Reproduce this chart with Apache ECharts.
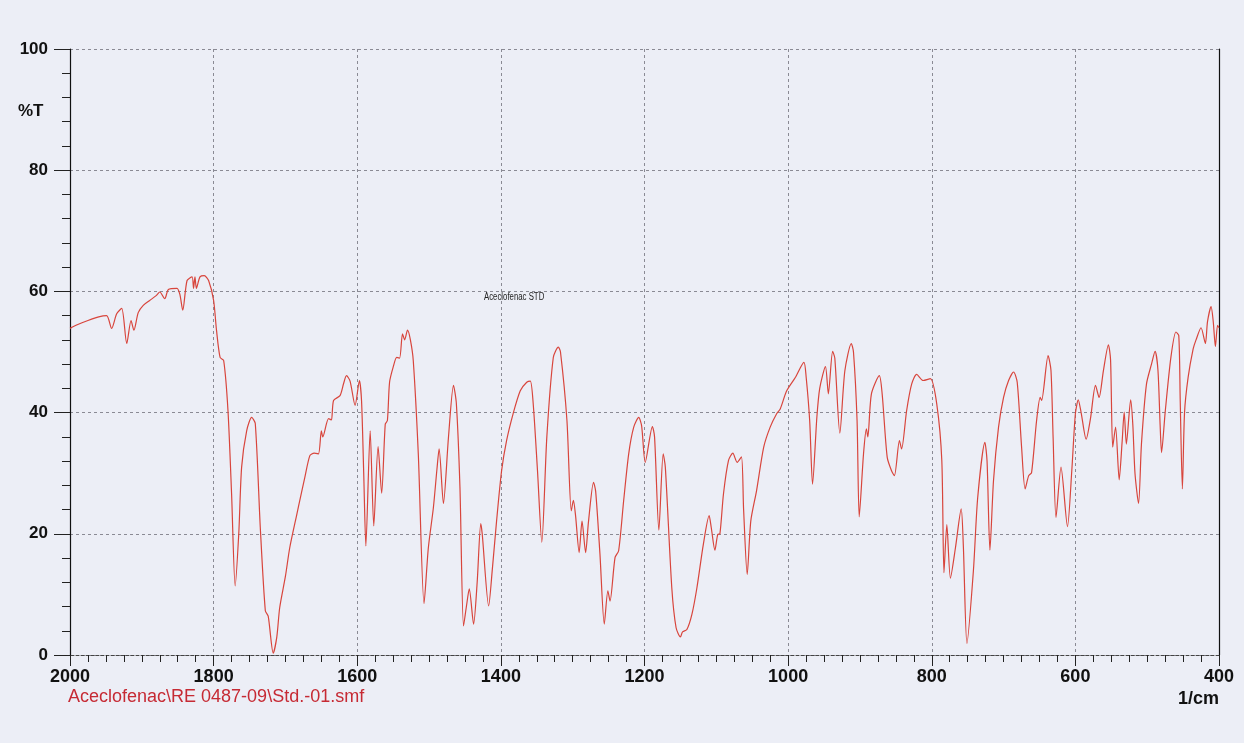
<!DOCTYPE html>
<html><head><meta charset="utf-8">
<script src="https://cdn.jsdelivr.net/npm/echarts@6/dist/echarts.min.js"></script>
<style>html,body{margin:0;padding:0;background:#eceef6;}#c{width:1244px;height:743px;}</style>
</head><body><div id="c"></div>
<script>
const wavenumbers = [2000,1990,1975,1960,1949,1942,1935,1928,1921,1915,1911,1905,1898,1889,1880,1875,1868,1863,1851,1847,1843,1837,1830,1828,1826,1824,1819,1813,1807,1800,1796,1791,1786,1780,1775,1770,1765,1761,1754,1747,1742,1735,1728,1724,1717,1712,1708,1700,1694,1684,1680,1673,1666,1660,1654,1650,1648,1640,1636,1633,1624,1619,1615,1610,1603,1597,1594,1591,1588,1582,1577,1571,1566,1561,1558,1555,1550,1545,1541,1537,1534,1530,1526,1522,1515,1507,1501,1494,1489,1486,1480,1473,1466,1462,1457,1452,1448,1444,1438,1433,1428,1426,1417,1412,1406,1399,1392,1383,1373,1364,1359,1355,1349,1343,1336,1327,1320,1317,1308,1302,1299,1296,1291,1287,1282,1278,1271,1268,1262,1256,1251,1248,1241,1236,1229,1222,1215,1208,1204,1199,1189,1186,1180,1174,1171,1162,1156,1150,1147,1141,1134,1127,1118,1110,1107,1102,1098,1095,1090,1083,1077,1071,1065,1062,1057,1052,1044,1034,1025,1016,1011,1002,990,978,975,970,966,960,956,948,944,938,935,928,921,912,909,904,901,895,891,889,884,873,869,862,856,852,845,842,835,828,821,812,802,793,786,783,779,774,767,759,756,751,742,736,726,723,719,714,707,700,693,686,681,675,670,665,661,654,649,647,638,634,631,627,620,611,605,600,596,592,585,579,572,567,561,554,551,548,544,539,535,532,529,523,520,517,512,508,501,494,489,485,482,480,475,467,460,456,454,451,448,443,436,432,425,419,416,411,408,405,402,400];
const transmittance = [53.9,54.5,55.2,55.8,56.0,53.9,56.3,57.2,51.4,55.2,53.6,56.5,57.7,58.5,59.3,59.9,58.8,60.3,60.5,59.5,56.9,61.8,62.4,60.5,62.4,60.5,62.4,62.6,61.8,58.5,53.6,49.1,48.6,40.3,26.6,11.4,20.0,31.0,37.0,39.2,38.2,21.0,7.3,6.4,0.3,3.0,7.8,13.0,17.7,23.3,25.5,29.3,32.9,33.3,33.2,37.0,36.0,39.0,38.8,42.0,42.8,44.8,46.1,45.2,41.2,45.3,41.9,30.0,18.0,37.0,21.3,34.4,26.7,38.1,38.7,45.0,47.5,49.1,49.0,53.0,52.0,53.6,52.0,48.6,33.2,8.5,17.7,24.3,30.7,34.0,25.0,35.9,44.5,41.5,27.7,4.8,8.0,10.9,5.1,12.0,21.7,20.0,8.1,14.0,22.1,30.4,35.4,39.8,43.6,45.0,45.2,41.5,30.4,18.6,36.0,49.1,50.8,50.0,38.7,23.8,25.5,23.0,16.9,22.1,16.9,22.0,28.5,27.0,16.6,5.1,10.6,8.9,16.1,17.2,25.5,33.2,37.6,39.2,37.8,31.8,37.7,36.0,20.6,33.2,31.0,11.1,4.5,3.0,3.8,4.2,6.7,11.1,18.3,23.0,21.0,17.3,19.9,20.0,26.6,32.1,33.3,31.8,32.7,24.0,13.3,22.1,27.1,34.3,37.6,39.8,40.6,43.6,45.8,48.3,46.0,38.7,28.2,39.2,44.0,47.6,43.1,50.1,49.0,36.6,46.9,51.4,50.0,38.7,22.8,33.2,37.3,36.0,43.1,46.1,43.0,32.6,30.4,29.6,35.4,34.0,40.3,44.7,46.3,45.3,45.6,41.4,32.1,13.6,21.5,12.7,17.7,24.1,18.0,1.9,13.9,26.0,35.1,32.0,17.3,28.8,37.6,42.5,45.3,46.7,45.0,34.5,27.4,29.6,30.1,38.7,42.5,42.0,49.4,47.0,35.9,22.7,31.0,21.2,30.4,39.8,42.1,40.0,35.6,39.0,44.5,42.5,46.9,51.2,48.7,34.3,37.6,28.9,35.0,40.1,34.8,42.1,38.0,30.0,25.0,34.8,44.7,48.0,50.1,47.0,38.0,33.4,40.0,49.1,53.3,52.7,42.0,27.4,40.0,45.8,50.5,52.0,54.0,51.4,55.0,57.5,55.0,50.9,54.4,54.0];
const xTicks = [2000,1800,1600,1400,1200,1000,800,600,400];
const yTicks = [0,20,40,60,80,100];
const sampleName = 'Aceclofenac STD';
const fileName = 'Aceclofenac\\RE 0487-09\\Std.-01.smf';

const chart = echarts.init(document.getElementById('c'));
const pts = wavenumbers.map((w,i)=>[w,transmittance[i]]);
const gridDash = {color:'#8a8a94', width:1, type:[3,3]};
chart.setOption({
  backgroundColor:'#eceef6',
  animation:false,
  grid:{left:70,right:25,top:49,bottom:88},
  xAxis:{type:'value',inverse:true,min:400,max:2000,interval:200,
    axisLine:{show:true,lineStyle:{color:'#444',type:[3,2],width:1}},
    axisTick:{show:true,length:11,lineStyle:{color:'#222'}},
    minorTick:{show:true,splitNumber:8,length:7,lineStyle:{color:'#222'}},
    splitLine:{show:true,lineStyle:gridDash},
    axisLabel:{color:'#111',fontSize:18,fontWeight:'bold',fontFamily:'Liberation Sans, Arial',margin:13,
      formatter:v=>xTicks.includes(v)?String(v):''}
  },
  yAxis:[{type:'value',min:0,max:100,interval:20,
    axisLine:{show:true,lineStyle:{color:'#111',width:1.2}},
    axisTick:{show:true,length:16,lineStyle:{color:'#222'}},
    minorTick:{show:true,splitNumber:5,length:8,lineStyle:{color:'#222'}},
    splitLine:{show:true,lineStyle:gridDash},
    axisLabel:{color:'#111',fontSize:17,fontWeight:'bold',fontFamily:'Liberation Sans, Arial',margin:22,
      formatter:v=>yTicks.includes(v)?String(v):''}
  },{type:'value',min:0,max:100,position:'right',
    axisLine:{show:true,lineStyle:{color:'#111',width:1.2}},
    axisTick:{show:false},axisLabel:{show:false},splitLine:{show:false}}],
  series:[{type:'line',data:pts,showSymbol:false,smooth:0.25,
    lineStyle:{color:'#d8453c',width:1.2},z:5}],
  graphic:[
    {type:'text',left:18,top:103,style:{text:'%T',fontSize:17,fontWeight:'bold',fontFamily:'Liberation Sans, Arial',fill:'#111'}},
    {type:'text',x:484,y:292,scaleX:0.78,style:{text:sampleName,fontSize:10,fontFamily:'Liberation Sans, Arial',fill:'#222'}},
    {type:'text',left:68,top:688,style:{text:fileName,fontSize:18,fontFamily:'Liberation Sans, Arial',fill:'#c62a34'}},
    {type:'text',right:25,top:690,style:{text:'1/cm',fontSize:18,fontWeight:'bold',fontFamily:'Liberation Sans, Arial',fill:'#111'}}
  ]
});
</script></body></html>
